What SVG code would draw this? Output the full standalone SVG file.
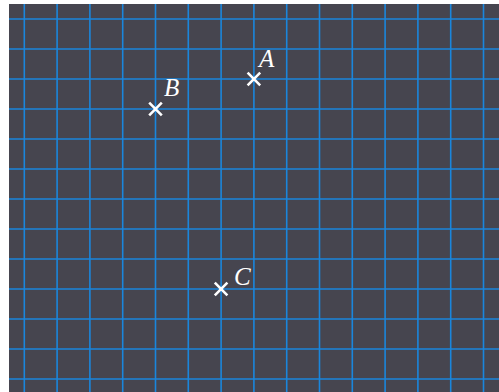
<svg xmlns="http://www.w3.org/2000/svg" width="499" height="392" viewBox="0 0 499 392">
<style>
.g line{stroke:#1a86dc;stroke-width:1.6}
.x{stroke:#ffffff;stroke-width:2.6;stroke-linecap:butt}
.lbl{font-family:"Liberation Serif","DejaVu Serif",serif;font-style:italic;font-size:25px;fill:#ffffff}
</style>
<rect x="0" y="0" width="499" height="392" fill="#ffffff"/>
<rect x="9" y="4" width="490" height="388" fill="#46454f"/>
<g class="g" id="grid">
<line x1="24.3" y1="4" x2="24.3" y2="392"/>
<line x1="57.1" y1="4" x2="57.1" y2="392"/>
<line x1="89.9" y1="4" x2="89.9" y2="392"/>
<line x1="122.7" y1="4" x2="122.7" y2="392"/>
<line x1="155.5" y1="4" x2="155.5" y2="392"/>
<line x1="188.3" y1="4" x2="188.3" y2="392"/>
<line x1="221.1" y1="4" x2="221.1" y2="392"/>
<line x1="253.9" y1="4" x2="253.9" y2="392"/>
<line x1="286.7" y1="4" x2="286.7" y2="392"/>
<line x1="319.5" y1="4" x2="319.5" y2="392"/>
<line x1="352.3" y1="4" x2="352.3" y2="392"/>
<line x1="385.1" y1="4" x2="385.1" y2="392"/>
<line x1="417.9" y1="4" x2="417.9" y2="392"/>
<line x1="450.7" y1="4" x2="450.7" y2="392"/>
<line x1="483.5" y1="4" x2="483.5" y2="392"/>
<line x1="9" y1="19" x2="499" y2="19"/>
<line x1="9" y1="49" x2="499" y2="49"/>
<line x1="9" y1="79" x2="499" y2="79"/>
<line x1="9" y1="109" x2="499" y2="109"/>
<line x1="9" y1="139" x2="499" y2="139"/>
<line x1="9" y1="169" x2="499" y2="169"/>
<line x1="9" y1="199" x2="499" y2="199"/>
<line x1="9" y1="229" x2="499" y2="229"/>
<line x1="9" y1="259" x2="499" y2="259"/>
<line x1="9" y1="289" x2="499" y2="289"/>
<line x1="9" y1="319" x2="499" y2="319"/>
<line x1="9" y1="349" x2="499" y2="349"/>
<line x1="9" y1="379" x2="499" y2="379"/>
</g>
<g id="pointA">
<path class="x" d="M247.6 72.7 L260.2 85.3 M247.6 85.3 L260.2 72.7"/>
<text class="lbl" x="259" y="67">A</text>
</g>
<g id="pointB">
<path class="x" d="M149.2 102.7 L161.8 115.3 M149.2 115.3 L161.8 102.7"/>
<text class="lbl" x="164" y="96">B</text>
</g>
<g id="pointC">
<path class="x" d="M214.8 282.7 L227.4 295.3 M214.8 295.3 L227.4 282.7"/>
<text class="lbl" x="234" y="285">C</text>
</g>
<g id="connectors"/>
</svg>
